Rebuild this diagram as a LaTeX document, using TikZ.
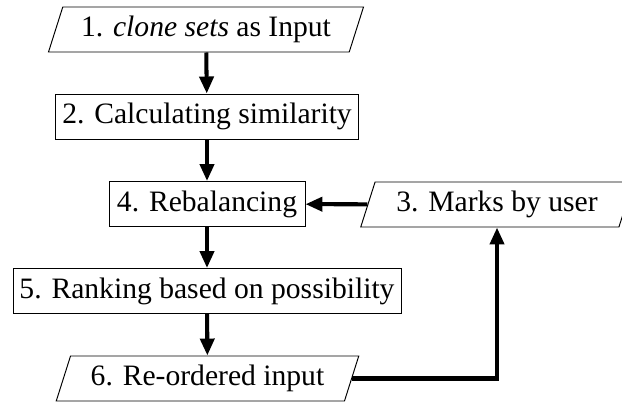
\documentclass[tikz,border=0pt]{standalone}
\usepackage{fontspec}
\setmainfont{Liberation Serif}
\usepackage{tikz}
\usetikzlibrary{shapes.geometric, arrows.meta, positioning, calc}

\begin{document}
\begin{tikzpicture}[
  stepbox/.style={rectangle, draw, line width=0.55pt, minimum height=0.9cm, inner sep=0pt, align=center, font=\fontsize{16.85}{20}\selectfont},
  iobox/.style={trapezium, trapezium left angle=62, trapezium right angle=118, trapezium stretches body, draw, line width=0.55pt, minimum height=0.9cm, inner sep=0pt, align=center, font=\fontsize{16.85}{20}\selectfont},
  arrow/.style={-{Triangle[length=0.34cm, width=0.28cm]}, line width=2.3pt}
]
\path[use as bounding box, clip] (0,0) rectangle (12.44,-8.04);

\node[iobox, minimum width=6.3cm] (inp) at (4.12,-0.59) {1. \textit{clone sets} as Input};
\node[stepbox, minimum width=6.06cm] (sim) at (4.14,-2.33) {2. Calculating similarity};
\node[stepbox, minimum width=3.92cm] (reb) at (4.14,-4.08) {4. Rebalancing};
\node[iobox, minimum width=5.45cm] (mark) at (9.94,-4.09) {3. Marks by user};
\node[stepbox, minimum width=7.76cm] (rank) at (4.14,-5.82) {5. Ranking based on possibility};
\node[iobox, minimum width=6.05cm] (reord) at (4.15,-7.57) {6. Re-ordered input};

\draw[arrow] (inp) -- (sim);
\draw[arrow] (sim) -- (reb);
\draw[arrow] (mark) -- (reb);
\draw[arrow] (reb) -- (rank);
\draw[arrow] (rank) -- (reord);
\draw[arrow] (reord.east) -| (mark.south);
\end{tikzpicture}
\end{document}
